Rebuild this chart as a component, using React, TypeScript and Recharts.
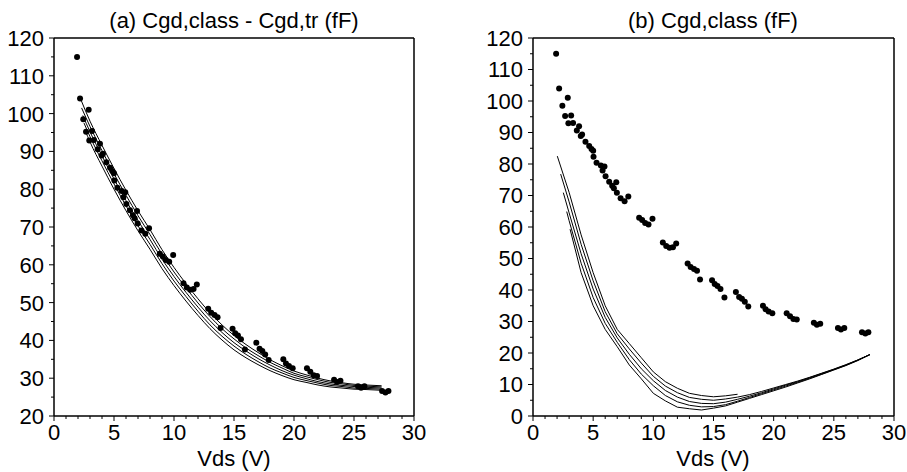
import React from "react";
import { ComposedChart, Line, Scatter, XAxis, YAxis } from "recharts";

// measured Cgd (same points in both panels)
const measVds = [
  1.92, 2.17, 2.44, 2.67, 2.89, 2.94, 3.17, 3.33, 3.64, 3.83, 3.97, 4.08, 4.36, 4.67, 4.86,
  5.0, 5.03, 5.28, 5.64, 5.78, 5.94, 6.03, 6.33, 6.58, 6.72, 6.92, 6.97, 7.28, 7.61, 7.92,
  8.82, 9.07, 9.32, 9.6, 9.93, 10.79, 11.07, 11.35, 11.63, 11.9, 12.85, 13.1, 13.38, 13.63,
  13.88, 14.88, 15.1, 15.33, 15.58, 15.91, 16.86, 17.13, 17.36, 17.6, 17.89, 19.11, 19.33,
  19.58, 19.89, 21.08, 21.36, 21.64, 21.92, 23.34, 23.59, 23.87, 25.34, 25.59, 25.87, 27.34,
  27.62, 27.87,
];
const measCgd = [
  115.0, 104.0, 98.5, 95.2, 101.0, 92.9, 95.4, 93.0, 90.6, 92.0, 88.9, 89.4, 87.1, 85.7, 84.8,
  84.2, 82.3, 80.4, 79.5, 77.9, 79.2, 76.1, 74.4, 73.1, 72.3, 74.2, 70.9, 69.1, 68.2, 69.7,
  62.9, 62.2, 61.3, 60.8, 62.6, 55.1, 54.0, 53.4, 53.6, 54.8, 48.4, 47.3, 46.7, 46.1,
  43.3, 43.1, 41.9, 41.3, 40.3, 37.6, 39.4, 37.8, 37.2, 36.3, 34.8, 35.0, 33.9,
  33.2, 32.6, 32.6, 31.7, 30.8, 30.6, 29.6, 29.0, 29.3, 27.9, 27.5, 27.9, 26.6,
  26.2, 26.6,
];

// panel (a): Cgd,class - Cgd,tr model curves
const fitVds = [3, 4, 5, 6, 7, 8, 9, 10, 11, 12, 13, 14, 15, 16, 17, 18, 19, 20, 21, 22, 23, 24, 25, 26, 27.3];
const fitStartVds = [2.2, 2.3, 2.4, 2.5, 2.6];
const fitStartCgd = [104, 101.5, 99.5, 97.5, 95.5];
const fit1 = [98, 91.6, 85.5, 79.7, 74.3, 69.3, 64.0, 59.3, 55.0, 51.0, 47.3, 44.1, 41.3, 38.9, 36.8, 34.9, 33.3, 31.9, 30.9, 30.0, 29.3, 28.8, 28.4, 28.2, 28.0];
const fit2 = [96.6, 90.2, 84.1, 78.4, 73.0, 68.0, 62.8, 58.1, 53.9, 49.9, 46.3, 43.1, 40.4, 38.0, 36.0, 34.2, 32.7, 31.3, 30.4, 29.6, 28.9, 28.5, 28.1, 27.9, 27.7];
const fit3 = [95.2, 88.8, 82.7, 77.0, 71.7, 66.7, 61.5, 56.9, 52.7, 48.8, 45.2, 42.1, 39.4, 37.2, 35.2, 33.5, 32.0, 30.8, 29.9, 29.1, 28.5, 28.1, 27.8, 27.6, 27.4];
const fit4 = [93.9, 87.5, 81.4, 75.6, 70.3, 65.4, 60.3, 55.7, 51.6, 47.7, 44.1, 41.1, 38.5, 36.3, 34.4, 32.7, 31.4, 30.2, 29.4, 28.7, 28.1, 27.8, 27.4, 27.3, 27.1];
const fit5 = [92.5, 86.1, 80.0, 74.3, 69.0, 64.1, 59.0, 54.5, 50.4, 46.6, 43.1, 40.1, 37.5, 35.4, 33.6, 32.0, 30.7, 29.6, 28.9, 28.2, 27.7, 27.4, 27.1, 27.0, 26.8];

// panel (b): Cgd,class model curves
const classVds = [3, 4, 5, 6, 7, 8, 9, 10, 11, 12, 13, 14, 15, 16, 17, 18, 19, 20, 21, 22, 23, 24, 25, 26, 27, 28];
const classStartVds = [2.02, 2.3, 2.52, 2.8, 3.08];
const classStartCgd = [82.5, 76.8, 70.9, 64.9, 59.3];
const class1 = [71, 57.5, 45.5, 35, 27.5, 23, 18.5, 14, 10.9, 8.8, 7.2, 6.5, 6.1, 6.4, 6.9, null, null, null, null, null, null, null, null, null, null, null];
const class2 = [68, 54.5, 42.9, 33.1, 26.1, 21.3, 16.8, 12.6, 9.5, 7.4, 5.9, 5.3, 5.0, 5.4, 6.0, 6.8, 7.8, 8.9, 10.0, 11.1, 12.3, 13.6, 14.9, 16.3, 17.8, 19.5];
const class3 = [64.5, 51.5, 40.3, 31.3, 24.8, 19.6, 15.0, 11.2, 8.1, 6.0, 4.6, 4.0, 3.9, 4.4, 5.3, 6.3, 7.4, 8.6, 9.8, 10.9, 12.2, 13.5, 14.8, 16.2, 17.8, 19.5];
const class4 = [62.0, 48.5, 37.6, 29.4, 23.4, 17.9, 13.3, 9.6, 6.5, 4.5, 3.4, 2.9, 3.0, 3.6, 4.7, 5.9, 7.1, 8.3, 9.5, 10.7, 12.0, 13.3, 14.7, 16.1, 17.7, 19.5];
const class5 = [null, 45.5, 35.0, 27.5, 22.0, 16.2, 11.8, 7.2, 4.8, 2.8, 2.3, 1.9, 2.5, 3.2, 4.4, 5.6, 6.8, 8.0, 9.2, 10.5, 11.8, 13.2, 14.6, 16.0, 17.6, 19.5];

// ticks
const xTicks = [0, 1, 2, 3, 4, 5, 6, 7, 8, 9, 10, 11, 12, 13, 14, 15, 16, 17, 18, 19, 20, 21, 22, 23, 24, 25, 26, 27, 28, 29, 30];
const xMajor = [0, 5, 10, 15, 20, 25, 30];
const yTicksA = [20, 25, 30, 35, 40, 45, 50, 55, 60, 65, 70, 75, 80, 85, 90, 95, 100, 105, 110, 115, 120];
const yMajorA = [20, 30, 40, 50, 60, 70, 80, 90, 100, 110, 120];
const yTicksB = [0, 5, 10, 15, 20, 25, 30, 35, 40, 45, 50, 55, 60, 65, 70, 75, 80, 85, 90, 95, 100, 105, 110, 115, 120];
const yMajorB = [0, 10, 20, 30, 40, 50, 60, 70, 80, 90, 100, 110, 120];

const FONT = "'Liberation Sans', Arial, Helvetica, sans-serif";
const AXIS = { stroke: "#000", strokeWidth: 1.5 };

type Pt = { x: number; y: number };

const toPoints = (xs: number[], ys: (number | null)[], x0: number, y0: number): Pt[] => {
  const pts: Pt[] = [{ x: x0, y: y0 }];
  xs.forEach((x, i) => {
    const y = ys[i];
    if (y !== null) pts.push({ x, y });
  });
  return pts;
};

const measData = measVds.map((x, i) => ({ x, y: measCgd[i] }));
const fitCurves = [fit1, fit2, fit3, fit4, fit5].map((ys, k) =>
  toPoints(fitVds, ys, fitStartVds[k], fitStartCgd[k])
);
const classCurves = [class1, class2, class3, class4, class5].map((ys, k) =>
  toPoints(classVds, ys, classStartVds[k], classStartCgd[k])
);

const makeXTick = (majors: number[]) => (props: any) => {
  const { x, y, payload } = props;
  const major = majors.includes(payload.value);
  return (
    <g>
      <line x1={x} x2={x} y1={y} y2={y + (major ? 5 : 3)} stroke="#000" strokeWidth={1} />
      {major && (
        <text x={x} y={y + 24} textAnchor="middle" fontSize={22} fontFamily={FONT} fill="#000">
          {payload.value}
        </text>
      )}
    </g>
  );
};

const makeYTick = (majors: number[]) => (props: any) => {
  const { x, y, payload } = props;
  const major = majors.includes(payload.value);
  return (
    <g>
      <line x1={x} x2={x - (major ? 5 : 3)} y1={y} y2={y} stroke="#000" strokeWidth={1} />
      {major && (
        <text x={x - 10} y={y} dy="0.36em" textAnchor="end" fontSize={22} fontFamily={FONT} fill="#000">
          {payload.value}
        </text>
      )}
    </g>
  );
};

const dotShape = (props: any) => <circle cx={props.cx} cy={props.cy} r={3} fill="#000" />;

type PanelProps = {
  left: number;
  width: number;
  margin: { top: number; right: number; bottom: number; left: number };
  yDomain: [number, number];
  yTicks: number[];
  yMajor: number[];
  curves: Pt[][];
  curveType: "monotone" | "linear";
};

// axes get a 1px box (a 0px axis is not drawn), the margins account for it
const Panel: React.FC<PanelProps> = ({ left, width, margin, yDomain, yTicks, yMajor, curves, curveType }) => (
  <div style={{ position: "absolute", left, top: 0, width, height: 472 }}>
    <ComposedChart width={width} height={472} margin={margin}>
      <XAxis
        type="number"
        dataKey="x"
        domain={[0, 30]}
        ticks={xTicks}
        interval={0}
        height={1}
        tickSize={0}
        tickMargin={0}
        tickLine={false}
        axisLine={AXIS}
        tick={makeXTick(xMajor)}
      />
      <XAxis xAxisId="top" orientation="top" type="number" domain={[0, 30]} height={1} tick={false} tickLine={false} axisLine={AXIS} />
      <YAxis
        type="number"
        dataKey="y"
        domain={yDomain}
        ticks={yTicks}
        interval={0}
        width={1}
        tickSize={0}
        tickMargin={0}
        tickLine={false}
        axisLine={AXIS}
        tick={makeYTick(yMajor)}
      />
      <YAxis yAxisId="right" orientation="right" type="number" domain={yDomain} width={1} tick={false} tickLine={false} axisLine={AXIS} />
      {curves.map((pts, i) => (
        <Line
          key={i}
          data={pts}
          dataKey="y"
          type={curveType}
          stroke="#000"
          strokeWidth={1}
          dot={false}
          activeDot={false}
          isAnimationActive={false}
        />
      ))}
      <Scatter data={measData} shape={dotShape} isAnimationActive={false} />
    </ComposedChart>
  </div>
);

export default function App() {
  return (
    <div style={{ position: "absolute", left: 0, top: 0, width: 907, height: 472, background: "#fff", overflow: "hidden" }}>
      <Panel
        left={0}
        width={450}
        margin={{ top: 37, right: 35, bottom: 55, left: 53 }}
        yDomain={[20, 120]}
        yTicks={yTicksA}
        yMajor={yMajorA}
        curves={fitCurves}
        curveType="monotone"
      />
      <Panel
        left={450}
        width={457}
        margin={{ top: 37, right: 12, bottom: 55, left: 82 }}
        yDomain={[0, 120]}
        yTicks={yTicksB}
        yMajor={yMajorB}
        curves={classCurves}
        curveType="linear"
      />
      <svg width={907} height={472} style={{ position: "absolute", left: 0, top: 0, pointerEvents: "none" }}>
        <g fontFamily={FONT} fontSize={22} fill="#000" textAnchor="middle">
          <text x={234} y={28}>(a) Cgd,class - Cgd,tr (fF)</text>
          <text x={713} y={28}>(b) Cgd,class (fF)</text>
          <text x={234} y={466}>Vds (V)</text>
          <text x={713} y={466}>Vds (V)</text>
        </g>
      </svg>
    </div>
  );
}
